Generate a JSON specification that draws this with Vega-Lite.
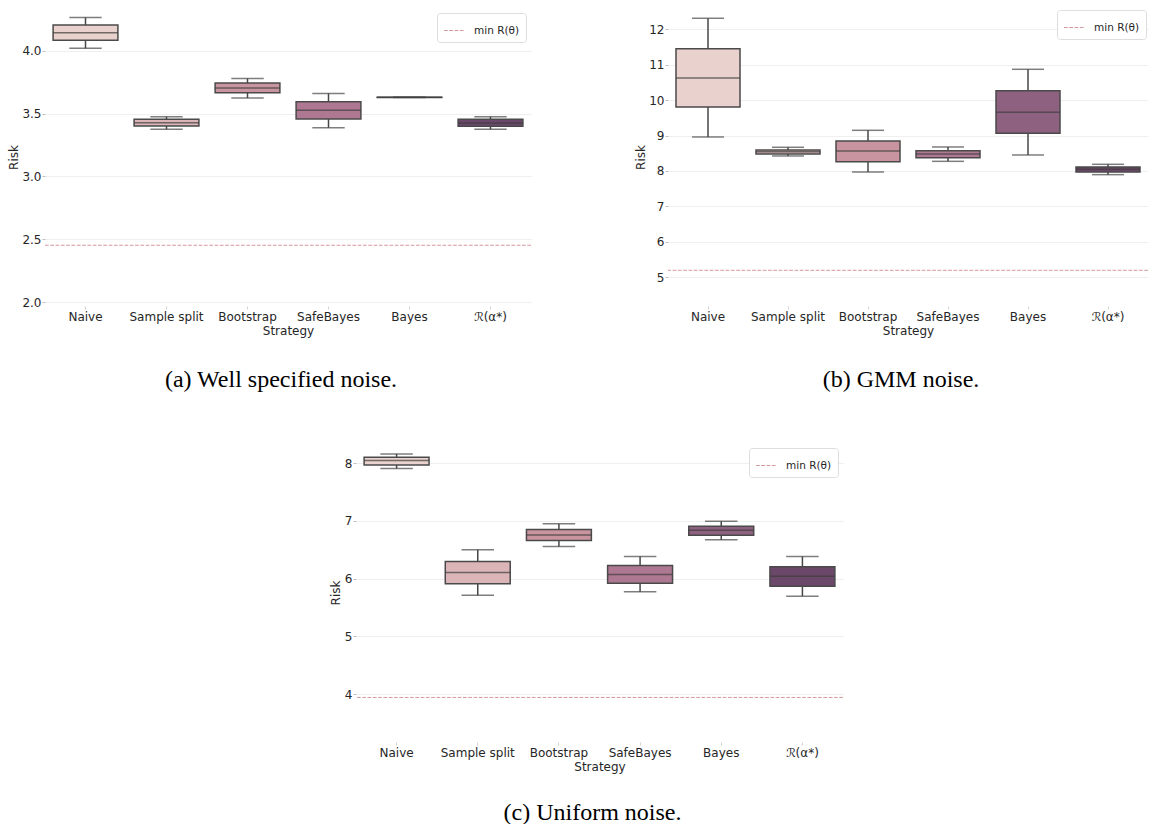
{
  "$schema": "https://vega.github.io/schema/vega-lite/v6.json",
  "padding": {"left": 7, "top": 8, "right": 0, "bottom": 0},
  "datasets": {
    "boxes": [
      {"panel": "a", "Strategy": "Naive", "lower": 4.019, "q1": 4.083, "median": 4.143, "q3": 4.204, "upper": 4.265},
      {"panel": "a", "Strategy": "Sample split", "lower": 3.375, "q1": 3.401, "median": 3.428, "q3": 3.455, "upper": 3.475},
      {"panel": "a", "Strategy": "Bootstrap", "lower": 3.624, "q1": 3.666, "median": 3.703, "q3": 3.743, "upper": 3.780},
      {"panel": "a", "Strategy": "SafeBayes", "lower": 3.388, "q1": 3.457, "median": 3.526, "q3": 3.595, "upper": 3.661},
      {"panel": "a", "Strategy": "Bayes", "lower": 3.628, "q1": 3.629, "median": 3.630, "q3": 3.630, "upper": 3.631},
      {"panel": "a", "Strategy": "ℛ(α*)", "lower": 3.375, "q1": 3.399, "median": 3.425, "q3": 3.455, "upper": 3.475},
      {"panel": "b", "Strategy": "Naive", "lower": 8.960, "q1": 9.807, "median": 10.625, "q3": 11.453, "upper": 12.310},
      {"panel": "b", "Strategy": "Sample split", "lower": 8.424, "q1": 8.480, "median": 8.546, "q3": 8.593, "upper": 8.669},
      {"panel": "b", "Strategy": "Bootstrap", "lower": 7.972, "q1": 8.264, "median": 8.565, "q3": 8.847, "upper": 9.148},
      {"panel": "b", "Strategy": "SafeBayes", "lower": 8.273, "q1": 8.377, "median": 8.480, "q3": 8.574, "upper": 8.678},
      {"panel": "b", "Strategy": "Bayes", "lower": 8.452, "q1": 9.064, "median": 9.656, "q3": 10.268, "upper": 10.870},
      {"panel": "b", "Strategy": "ℛ(α*)", "lower": 7.897, "q1": 7.972, "median": 8.048, "q3": 8.114, "upper": 8.189},
      {"panel": "c", "Strategy": "Naive", "lower": 7.907, "q1": 7.971, "median": 8.046, "q3": 8.103, "upper": 8.161},
      {"panel": "c", "Strategy": "Sample split", "lower": 5.714, "q1": 5.910, "median": 6.106, "q3": 6.297, "upper": 6.499},
      {"panel": "c", "Strategy": "Bootstrap", "lower": 6.556, "q1": 6.660, "median": 6.758, "q3": 6.851, "upper": 6.949},
      {"panel": "c", "Strategy": "SafeBayes", "lower": 5.771, "q1": 5.921, "median": 6.071, "q3": 6.227, "upper": 6.383},
      {"panel": "c", "Strategy": "Bayes", "lower": 6.672, "q1": 6.753, "median": 6.839, "q3": 6.908, "upper": 6.995},
      {"panel": "c", "Strategy": "ℛ(α*)", "lower": 5.697, "q1": 5.870, "median": 6.043, "q3": 6.204, "upper": 6.383}
    ],
    "mins": [
      {"panel": "a", "label": "min R(θ)", "min": 2.453},
      {"panel": "b", "label": "min R(θ)", "min": 5.198},
      {"panel": "c", "label": "min R(θ)", "min": 3.942}
    ]
  },
  "config": {
    "font": "DejaVu Sans",
    "view": {"stroke": null},
    "range": {"category": ["#d4979d", "#d4979d", "#d4979d"]},
    "axisX": {"domain": false, "ticks": true, "tickSize": 3, "tickColor": "#c8c8c8", "tickWidth": 0.8, "labelAngle": 0, "labelFontSize": 12, "labelColor": "#262626", "labelPadding": 2, "grid": false, "titleFontSize": 12, "titleFontWeight": "normal", "titleColor": "#262626", "titlePadding": 3},
    "axisY": {"domain": false, "ticks": true, "tickSize": 3, "tickColor": "#b0b0b0", "tickWidth": 0.8, "labelFontSize": 12, "labelColor": "#262626", "labelPadding": 1, "grid": true, "gridColor": "#ebebeb", "gridWidth": 0.8, "titleFontSize": 12, "titleFontWeight": "normal", "titleColor": "#262626", "titlePadding": 1.5},
    "title": {"font": "Liberation Serif", "fontSize": 24, "fontWeight": "normal", "color": "black", "orient": "bottom", "offset": 32},
    "legend": {"orient": "top-right", "offset": 5, "title": null, "symbolType": "stroke", "symbolSize": 441, "symbolStrokeWidth": 1.2, "symbolDash": [3.7, 1.6], "labelFont": "DejaVu Sans", "labelFontSize": 10.5, "labelColor": "#262626", "padding": 6, "strokeColor": "#dddddd", "fillColor": "white", "cornerRadius": 3, "labelOffset": 8}
  },
  "resolve": {"scale": {"stroke": "independent"}, "legend": {"stroke": "independent"}},
  "spacing": 51,
  "vconcat": [
    {
      "spacing": 102,
      "resolve": {"scale": {"stroke": "independent"}, "legend": {"stroke": "independent"}},
      "hconcat": [
        {
          "width": 486, "height": 298,
          "title": {"text": "(a) Well specified noise.", "dx": -7},
          "layer": [
            {"data": {"name": "boxes"}, "transform": [{"filter": "datum.panel === 'a'"}],
             "mark": {"type": "rule", "color": "#474747", "strokeWidth": 1.5},
             "encoding": {
               "x": {"field": "Strategy", "type": "nominal", "sort": ["Naive", "Sample split", "Bootstrap", "SafeBayes", "Bayes", "ℛ(α*)"], "scale": {"paddingInner": 0, "paddingOuter": 0}, "title": "Strategy"},
               "y": {"field": "lower", "type": "quantitative", "scale": {"domain": [1.97, 4.34], "zero": false, "nice": false}, "axis": {"values": [2.0, 2.5, 3.0, 3.5, 4.0], "format": ".1f"}, "title": "Risk"},
               "y2": {"field": "upper"}}},
            {"data": {"name": "boxes"}, "transform": [{"filter": "datum.panel === 'a'"}],
             "mark": {"type": "tick", "color": "#474747", "thickness": 1.5, "size": 32.4},
             "encoding": {"x": {"field": "Strategy", "type": "nominal", "sort": ["Naive", "Sample split", "Bootstrap", "SafeBayes", "Bayes", "ℛ(α*)"]}, "y": {"field": "lower", "type": "quantitative"}}},
            {"data": {"name": "boxes"}, "transform": [{"filter": "datum.panel === 'a'"}],
             "mark": {"type": "tick", "color": "#474747", "thickness": 1.5, "size": 32.4},
             "encoding": {"x": {"field": "Strategy", "type": "nominal", "sort": ["Naive", "Sample split", "Bootstrap", "SafeBayes", "Bayes", "ℛ(α*)"]}, "y": {"field": "upper", "type": "quantitative"}}},
            {"data": {"name": "boxes"}, "transform": [{"filter": "datum.panel === 'a'"}],
             "mark": {"type": "bar", "stroke": "#4a4a4a", "strokeWidth": 1.5, "width": {"band": 0.8}},
             "encoding": {"x": {"field": "Strategy", "type": "nominal", "sort": ["Naive", "Sample split", "Bootstrap", "SafeBayes", "Bayes", "ℛ(α*)"]},
               "y": {"field": "q1", "type": "quantitative"}, "y2": {"field": "q3"},
               "fill": {"field": "Strategy", "type": "nominal", "scale": {"domain": ["Naive", "Sample split", "Bootstrap", "SafeBayes", "Bayes", "ℛ(α*)"], "range": ["#e9d2cd", "#dcb5b9", "#c8949f", "#ae7892", "#8f6180", "#6b476a"]}, "legend": null}}},
            {"data": {"name": "boxes"}, "transform": [{"filter": "datum.panel === 'a'"}],
             "mark": {"type": "tick", "color": "#3d3d3d", "thickness": 1.5, "size": 64.8},
             "encoding": {"x": {"field": "Strategy", "type": "nominal", "sort": ["Naive", "Sample split", "Bootstrap", "SafeBayes", "Bayes", "ℛ(α*)"]}, "y": {"field": "median", "type": "quantitative"}}},
            {"data": {"name": "mins"}, "transform": [{"filter": "datum.panel === 'a'"}],
             "mark": {"type": "rule", "strokeWidth": 1, "strokeDash": [3.7, 1.6]},
             "encoding": {"y": {"field": "min", "type": "quantitative"},
               "stroke": {"field": "label", "type": "nominal", "scale": {"domain": ["min R(θ)"], "range": ["#d4979d"]}}}}
          ]
        },
        {
          "width": 480, "height": 298,
          "title": {"text": "(b) GMM noise.", "dx": -7},
          "layer": [
            {"data": {"name": "boxes"}, "transform": [{"filter": "datum.panel === 'b'"}],
             "mark": {"type": "rule", "color": "#474747", "strokeWidth": 1.5},
             "encoding": {
               "x": {"field": "Strategy", "type": "nominal", "sort": ["Naive", "Sample split", "Bootstrap", "SafeBayes", "Bayes", "ℛ(α*)"], "scale": {"paddingInner": 0, "paddingOuter": 0}, "title": "Strategy"},
               "y": {"field": "lower", "type": "quantitative", "scale": {"domain": [4.19, 12.6], "zero": false, "nice": false}, "axis": {"values": [5, 6, 7, 8, 9, 10, 11, 12], "format": "d"}, "title": "Risk"},
               "y2": {"field": "upper"}}},
            {"data": {"name": "boxes"}, "transform": [{"filter": "datum.panel === 'b'"}],
             "mark": {"type": "tick", "color": "#474747", "thickness": 1.5, "size": 32},
             "encoding": {"x": {"field": "Strategy", "type": "nominal", "sort": ["Naive", "Sample split", "Bootstrap", "SafeBayes", "Bayes", "ℛ(α*)"]}, "y": {"field": "lower", "type": "quantitative"}}},
            {"data": {"name": "boxes"}, "transform": [{"filter": "datum.panel === 'b'"}],
             "mark": {"type": "tick", "color": "#474747", "thickness": 1.5, "size": 32},
             "encoding": {"x": {"field": "Strategy", "type": "nominal", "sort": ["Naive", "Sample split", "Bootstrap", "SafeBayes", "Bayes", "ℛ(α*)"]}, "y": {"field": "upper", "type": "quantitative"}}},
            {"data": {"name": "boxes"}, "transform": [{"filter": "datum.panel === 'b'"}],
             "mark": {"type": "bar", "stroke": "#4a4a4a", "strokeWidth": 1.5, "width": {"band": 0.8}},
             "encoding": {"x": {"field": "Strategy", "type": "nominal", "sort": ["Naive", "Sample split", "Bootstrap", "SafeBayes", "Bayes", "ℛ(α*)"]},
               "y": {"field": "q1", "type": "quantitative"}, "y2": {"field": "q3"},
               "fill": {"field": "Strategy", "type": "nominal", "scale": {"domain": ["Naive", "Sample split", "Bootstrap", "SafeBayes", "Bayes", "ℛ(α*)"], "range": ["#e9d2cd", "#dcb5b9", "#c8949f", "#ae7892", "#8f6180", "#6b476a"]}, "legend": null}}},
            {"data": {"name": "boxes"}, "transform": [{"filter": "datum.panel === 'b'"}],
             "mark": {"type": "tick", "color": "#3d3d3d", "thickness": 1.5, "size": 64},
             "encoding": {"x": {"field": "Strategy", "type": "nominal", "sort": ["Naive", "Sample split", "Bootstrap", "SafeBayes", "Bayes", "ℛ(α*)"]}, "y": {"field": "median", "type": "quantitative"}}},
            {"data": {"name": "mins"}, "transform": [{"filter": "datum.panel === 'b'"}],
             "mark": {"type": "rule", "strokeWidth": 1, "strokeDash": [3.7, 1.6]},
             "encoding": {"y": {"field": "min", "type": "quantitative"},
               "stroke": {"field": "label", "type": "nominal", "scale": {"domain": ["min R(θ)"], "range": ["#d4979d"]}, "legend": {"offset": 2}}}}
          ]
        }
      ]
    },
    {
      "spacing": 283,
      "resolve": {"scale": {"stroke": "independent"}, "legend": {"stroke": "independent"}},
      "hconcat": [
        {"width": 1, "height": 1, "data": {"values": []}, "mark": {"type": "rule"}, "encoding": {}},
        {
          "width": 487, "height": 299,
          "title": {"text": "(c) Uniform noise.", "dx": -7, "offset": 29},
          "layer": [
            {"data": {"name": "boxes"}, "transform": [{"filter": "datum.panel === 'c'"}],
             "mark": {"type": "rule", "color": "#474747", "strokeWidth": 1.5},
             "encoding": {
               "x": {"field": "Strategy", "type": "nominal", "sort": ["Naive", "Sample split", "Bootstrap", "SafeBayes", "Bayes", "ℛ(α*)"], "scale": {"paddingInner": 0, "paddingOuter": 0}, "title": "Strategy"},
               "y": {"field": "lower", "type": "quantitative", "scale": {"domain": [3.17, 8.35], "zero": false, "nice": false}, "axis": {"values": [4, 5, 6, 7, 8], "format": "d"}, "title": "Risk"},
               "y2": {"field": "upper"}}},
            {"data": {"name": "boxes"}, "transform": [{"filter": "datum.panel === 'c'"}],
             "mark": {"type": "tick", "color": "#474747", "thickness": 1.5, "size": 32.5},
             "encoding": {"x": {"field": "Strategy", "type": "nominal", "sort": ["Naive", "Sample split", "Bootstrap", "SafeBayes", "Bayes", "ℛ(α*)"]}, "y": {"field": "lower", "type": "quantitative"}}},
            {"data": {"name": "boxes"}, "transform": [{"filter": "datum.panel === 'c'"}],
             "mark": {"type": "tick", "color": "#474747", "thickness": 1.5, "size": 32.5},
             "encoding": {"x": {"field": "Strategy", "type": "nominal", "sort": ["Naive", "Sample split", "Bootstrap", "SafeBayes", "Bayes", "ℛ(α*)"]}, "y": {"field": "upper", "type": "quantitative"}}},
            {"data": {"name": "boxes"}, "transform": [{"filter": "datum.panel === 'c'"}],
             "mark": {"type": "bar", "stroke": "#4a4a4a", "strokeWidth": 1.5, "width": {"band": 0.8}},
             "encoding": {"x": {"field": "Strategy", "type": "nominal", "sort": ["Naive", "Sample split", "Bootstrap", "SafeBayes", "Bayes", "ℛ(α*)"]},
               "y": {"field": "q1", "type": "quantitative"}, "y2": {"field": "q3"},
               "fill": {"field": "Strategy", "type": "nominal", "scale": {"domain": ["Naive", "Sample split", "Bootstrap", "SafeBayes", "Bayes", "ℛ(α*)"], "range": ["#e9d2cd", "#dcb5b9", "#c8949f", "#ae7892", "#8f6180", "#6b476a"]}, "legend": null}}},
            {"data": {"name": "boxes"}, "transform": [{"filter": "datum.panel === 'c'"}],
             "mark": {"type": "tick", "color": "#3d3d3d", "thickness": 1.5, "size": 64.9},
             "encoding": {"x": {"field": "Strategy", "type": "nominal", "sort": ["Naive", "Sample split", "Bootstrap", "SafeBayes", "Bayes", "ℛ(α*)"]}, "y": {"field": "median", "type": "quantitative"}}},
            {"data": {"name": "mins"}, "transform": [{"filter": "datum.panel === 'c'"}],
             "mark": {"type": "rule", "strokeWidth": 1, "strokeDash": [3.7, 1.6]},
             "encoding": {"y": {"field": "min", "type": "quantitative"},
               "stroke": {"field": "label", "type": "nominal", "scale": {"domain": ["min R(θ)"], "range": ["#d4979d"]}}}}
          ]
        }
      ]
    }
  ]
}
